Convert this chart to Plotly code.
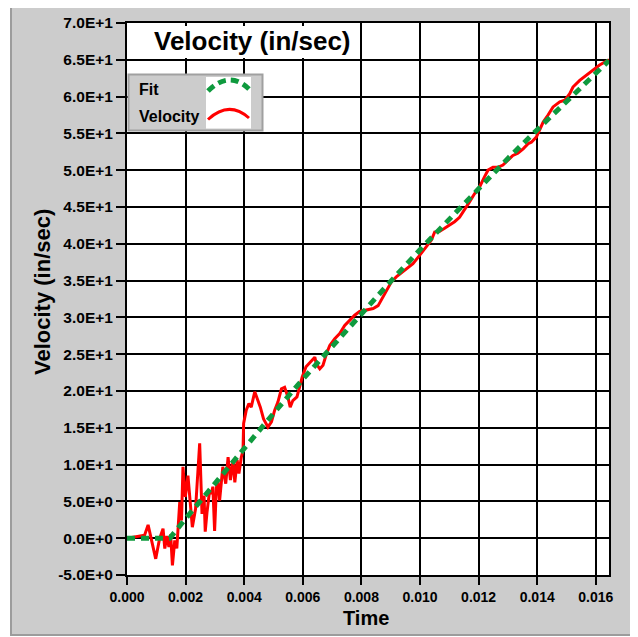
import plotly.graph_objects as go

# velocity trace (time in s, velocity in in/sec)
vel_t = [0.00000, 0.00030, 0.00060, 0.00072, 0.00085, 0.00098, 0.00111, 0.00123, 0.00129, 0.00136,
         0.00143, 0.00149, 0.00155, 0.00163, 0.00170, 0.00180, 0.00186, 0.00191, 0.00199, 0.00208,
         0.00223, 0.00234, 0.00248, 0.00256, 0.00263, 0.00267, 0.00273, 0.00282, 0.00288, 0.00293,
         0.00299, 0.00305, 0.00310, 0.00316, 0.00327, 0.00337, 0.00345, 0.00353, 0.00362, 0.00368,
         0.00376, 0.00382, 0.00390, 0.00396, 0.00398, 0.00407, 0.00416, 0.00424, 0.00436, 0.00445,
         0.00455, 0.00466, 0.00481, 0.00493, 0.00504, 0.00515, 0.00527, 0.00538, 0.00549, 0.00557,
         0.00566, 0.00580, 0.00589, 0.00598, 0.00611, 0.00628, 0.00641, 0.00646, 0.00658, 0.00669,
         0.00681, 0.00692, 0.00709, 0.00726, 0.00743, 0.00760, 0.00777, 0.00794, 0.00817, 0.00840,
         0.00857, 0.00874, 0.00891, 0.00902, 0.00919, 0.00937, 0.00954, 0.00976, 0.00998, 0.01020,
         0.01039, 0.01050, 0.01067, 0.01084, 0.01101, 0.01118, 0.01135, 0.01152, 0.01169, 0.01186,
         0.01203, 0.01220, 0.01232, 0.01249, 0.01266, 0.01283, 0.01300, 0.01317, 0.01334, 0.01352,
         0.01369, 0.01380, 0.01397, 0.01409, 0.01420, 0.01437, 0.01454, 0.01477, 0.01494, 0.01511,
         0.01522, 0.01545, 0.01568, 0.01590, 0.01613, 0.01645]
vel_v = [0.0, 0.2, 0.4, 1.8, -0.6, -2.8, -0.1, 1.3, -1.4, 0.3,
         -1.2, 0.5, -3.7, -0.3, -1.4, 4.9, 2.4, 9.7, 5.6, 8.5,
         1.5, 4.0, 12.9, 3.3, 5.8, 0.9, 3.5, 6.5, 6.0, 7.0,
         1.0, 6.8, 7.9, 5.1, 9.7, 7.4, 11.0, 7.9, 10.6, 7.6,
         10.6, 8.8, 11.0, 11.9, 15.6, 17.4, 18.3, 17.8, 19.9, 19.0,
         17.8, 16.2, 15.1, 15.8, 17.4, 18.5, 20.3, 20.5, 19.2, 17.8,
         18.7, 19.2, 20.5, 21.9, 23.3, 24.1, 24.6, 23.7, 23.0, 23.5,
         25.1, 26.2, 27.1, 27.8, 28.9, 29.6, 30.3, 30.8, 31.0, 31.2,
         31.6, 32.8, 34.1, 34.8, 35.5, 36.1, 36.6, 37.3, 38.4, 39.6,
         40.5, 41.6, 41.7, 42.1, 42.5, 43.0, 43.6, 44.6, 45.7, 46.8,
         47.7, 49.1, 50.0, 50.4, 50.4, 50.7, 51.3, 52.0, 52.3, 52.9,
         53.6, 53.8, 54.5, 55.6, 56.5, 57.5, 58.6, 59.3, 59.5, 60.4,
         61.3, 62.2, 62.9, 63.6, 64.3, 65.0]

# fitted curve
fit_t = [0.0, 0.00146, 0.002, 0.003, 0.004, 0.005, 0.006, 0.007, 0.008, 0.009,
         0.010, 0.011, 0.012, 0.013, 0.014, 0.015, 0.016, 0.01645]
fit_v = [0.0, 0.0, 2.65, 7.5, 12.3, 16.95, 21.6, 26.1, 30.5, 34.9,
         39.2, 43.4, 47.5, 51.6, 55.5, 59.4, 63.2, 64.9]

x_ticks = [0.000, 0.002, 0.004, 0.006, 0.008, 0.010, 0.012, 0.014, 0.016]
y_ticks = [-5, 0, 5, 10, 15, 20, 25, 30, 35, 40, 45, 50, 55, 60, 65, 70]
y_tick_labels = ["-5.0E+0", "0.0E+0", "5.0E+0", "1.0E+1", "1.5E+1", "2.0E+1", "2.5E+1", "3.0E+1",
                 "3.5E+1", "4.0E+1", "4.5E+1", "5.0E+1", "5.5E+1", "6.0E+1", "6.5E+1", "7.0E+1"]

FONT = "Liberation Sans, Arial, sans-serif"
GREEN = "#0f9a3e"
RED = "#ff0000"

# page body has an 8px margin, so the figure starts at (8, 8) in the window
OFF = 8
FW, FH = 630, 629
# plot area in window pixels
L, T, W, H = 127, 23, 482, 552


def px(x):
    # window pixel -> paper x
    return (x - L) / W


def py(y):
    # window pixel -> paper y
    return (T + H - y) / H


fig = go.Figure()
fig.add_trace(go.Scatter(x=vel_t, y=vel_v, mode='lines', name='Velocity',
                         line=dict(color=RED, width=3)))
fig.add_trace(go.Scatter(x=fit_t, y=fit_v, mode='lines', name='Fit',
                         line=dict(color=GREEN, width=5, dash='8px,6px')))

shapes = [
    # white strips round the grey panel + its border
    dict(type='rect', xref='paper', yref='paper', x0=px(0), x1=px(10), y0=py(0), y1=py(650),
         fillcolor='white', line=dict(width=0), layer='below'),
    dict(type='rect', xref='paper', yref='paper', x0=px(633), x1=px(650), y0=py(0), y1=py(650),
         fillcolor='white', line=dict(width=0), layer='below'),
    dict(type='rect', xref='paper', yref='paper', x0=px(0), x1=px(650), y0=py(636), y1=py(650),
         fillcolor='white', line=dict(width=0), layer='below'),
    dict(type='rect', xref='paper', yref='paper', x0=px(11), x1=px(632), y0=py(7), y1=py(635),
         line=dict(color='#9c9c9c', width=2), layer='below'),
    # title box
    dict(type='rect', xref='paper', yref='paper', x0=px(129), x1=px(360), y0=py(26), y1=py(58),
         fillcolor='white', line=dict(width=0), layer='above'),
    # legend box
    dict(type='rect', xref='paper', yref='paper', x0=px(128.5), x1=px(262.5), y0=py(74.5), y1=py(130.5),
         fillcolor='#cccccc', line=dict(color='#a0a0a0', width=2), layer='above'),
    dict(type='rect', xref='paper', yref='paper', x0=px(206), x1=px(251), y0=py(77), y1=py(128.5),
         fillcolor='white', line=dict(width=0), layer='above'),
    dict(type='path', xref='paper', yref='paper', layer='above',
         path='M %f,%f Q %f,%f %f,%f' % (px(208), py(91), px(229), py(70), px(249), py(89)),
         line=dict(color=GREEN, width=5, dash='8px,5px')),
    dict(type='path', xref='paper', yref='paper', layer='above',
         path='M %f,%f Q %f,%f %f,%f' % (px(208), py(119.5), px(229), py(100), px(249), py(118)),
         line=dict(color=RED, width=3)),
]

annotations = [
    dict(text='<b>Velocity (in/sec)</b>', x=px(252), y=py(41), xref='paper', yref='paper',
         showarrow=False, font=dict(family=FONT, size=26, color='black'), xanchor='center', yanchor='middle'),
    dict(text='<b>Fit</b>', x=px(137), y=py(90), xref='paper', yref='paper',
         showarrow=False, font=dict(family=FONT, size=16, color='black'), xanchor='left', yanchor='middle'),
    dict(text='<b>Velocity</b>', x=px(137), y=py(117), xref='paper', yref='paper',
         showarrow=False, font=dict(family=FONT, size=16, color='black'), xanchor='left', yanchor='middle'),
    dict(text='<b>Velocity (in/sec)</b>', x=px(42), y=py(292), xref='paper', yref='paper', textangle=-90,
         showarrow=False, font=dict(family=FONT, size=22, color='black'), xanchor='center', yanchor='middle'),
    dict(text='<b>Time</b>', x=px(366), y=py(618), xref='paper', yref='paper',
         showarrow=False, font=dict(family=FONT, size=20, color='black'), xanchor='center', yanchor='middle'),
]

fig.update_layout(
    width=FW, height=FH,
    margin=dict(l=L - OFF, r=FW - (L - OFF) - W, t=T - OFF, b=FH - (T - OFF) - H, pad=0),
    paper_bgcolor='#cccccc', plot_bgcolor='white',
    showlegend=False,
    shapes=shapes, annotations=annotations,
    font=dict(family=FONT, color='black'),
)
fig.update_xaxes(range=[0, 0.01645], tickvals=x_ticks, tickformat='.3f',
                 showgrid=True, gridcolor='black', gridwidth=1.6, zeroline=False,
                 showline=True, linecolor='black', linewidth=2, mirror=True,
                 ticks='outside', ticklen=8, tickwidth=2, tickcolor='black',
                 tickfont=dict(family=FONT, size=14, color='black', weight='bold'), automargin=False)
fig.update_yaxes(range=[-5, 70], tickvals=y_ticks, ticktext=y_tick_labels,
                 showgrid=True, gridcolor='black', gridwidth=2, zeroline=False,
                 showline=True, linecolor='black', linewidth=2, mirror=True,
                 ticks='outside', ticklen=9, tickwidth=2, tickcolor='black',
                 tickfont=dict(family=FONT, size=15.5, color='black', weight='bold'), automargin=False)

fig.write_html("out.html")
